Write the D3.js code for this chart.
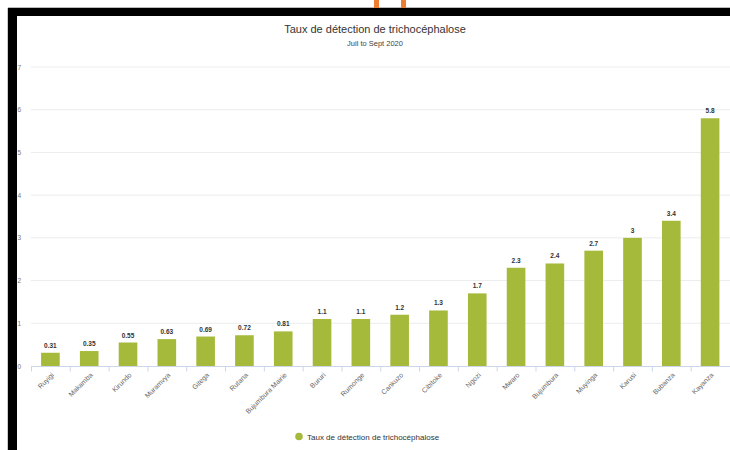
<!DOCTYPE html>
<html><head><meta charset="utf-8">
<script src="https://cdn.jsdelivr.net/npm/d3@7"></script>
<style>body{margin:0;background:#fff;}svg{display:block;font-family:"Liberation Sans",Arial,sans-serif;}</style>
</head><body>
<svg id="c" width="730" height="450"></svg>
<script>
const categories = ["Ruyigi","Makamba","Kirundo","Muramvya","Gitega","Rutana","Bujumbura Mairie","Bururi","Rumonge","Cankuzo","Cibitoke","Ngozi","Mwaro","Bujumbura","Muyinga","Karusi","Bubanza","Kayanza"];
const values = [0.31,0.35,0.55,0.63,0.69,0.72,0.81,1.1,1.1,1.2,1.3,1.7,2.3,2.4,2.7,3,3.4,5.8];
const yTicks = [0,1,2,3,4,5,6,7];
const seriesName = "Taux de détection de trichocéphalose";
const titleText = "Taux de détection de trichocéphalose";
const subtitleText = "Juil to Sept 2020";

const svg = d3.select("#c");
const barColor = "#a5ba3a";

const x = d3.scaleBand().domain(categories).range([31, 729.5]).paddingInner(0.52).paddingOuter(0.26);
const y = d3.scaleLinear().domain([0,7]).range([366, 67]);

// gridlines
svg.append("g").selectAll("line").data(yTicks.filter(d=>d>0)).join("line")
  .attr("x1",31).attr("x2",730).attr("y1",d=>y(d)).attr("y2",d=>y(d))
  .attr("stroke","#ececec").attr("stroke-width",1);

// y labels
svg.append("g").selectAll("text").data(yTicks).join("text")
  .attr("x",21).attr("y",d=>y(d)+2.5).attr("text-anchor","end")
  .attr("font-size",6.5).attr("fill","#777").text(d=>d);

// bars
svg.append("g").selectAll("rect").data(values).join("rect")
  .attr("x",(d,i)=>x(categories[i])).attr("width",x.bandwidth())
  .attr("y",d=>y(d)).attr("height",d=>y(0)-y(d)).attr("fill",barColor);

// data labels
svg.append("g").selectAll("text").data(values).join("text")
  .attr("x",(d,i)=>x(categories[i])+x.bandwidth()/2).attr("y",d=>y(d)-5)
  .attr("text-anchor","middle").attr("font-size",6.5).attr("font-weight","bold")
  .attr("fill","#333").text(d=>d);

// x axis
const xAxis = svg.append("g").attr("transform","translate(0,366.5)");
xAxis.append("line").attr("x1",31).attr("x2",730).attr("stroke","#ccd6eb");
const step = x.step();
xAxis.selectAll("line.t").data(d3.range(categories.length)).join("line").attr("class","t")
  .attr("x1",i=>31+i*step+0.5).attr("x2",i=>31+i*step+0.5).attr("y1",0).attr("y2",5)
  .attr("stroke","#ccd6eb");
xAxis.selectAll("text").data(categories).join("text")
  .attr("transform",d=>`translate(${x(d)+x.bandwidth()/2+4},${9}) rotate(-45)`)
  .attr("text-anchor","end").attr("font-size",7).attr("fill","#666").text(d=>d);

// title
svg.append("text").attr("x",375).attr("y",33).attr("text-anchor","middle")
  .attr("font-size",11).attr("fill","#333").text(titleText);
svg.append("text").attr("x",375).attr("y",46).attr("text-anchor","middle")
  .attr("font-size",7.5).attr("fill","#444").text(subtitleText);

// legend
svg.append("circle").attr("cx",299).attr("cy",436.5).attr("r",3.8).attr("fill",barColor);
svg.append("text").attr("x",307).attr("y",439.5).attr("font-size",8).attr("fill","#333").text(seriesName);

// frame decorations
svg.append("line").attr("x1",8).attr("x2",730).attr("y1",7.5).attr("y2",7.5).attr("stroke","#bbb");
svg.append("rect").attr("x",8).attr("y",8).attr("width",722).attr("height",8).attr("fill","#000");
svg.append("rect").attr("x",8).attr("y",8).attr("width",9).attr("height",442).attr("fill","#000");
svg.append("line").attr("x1",7.5).attr("x2",7.5).attr("y1",8).attr("y2",450).attr("stroke","#ccc");
svg.append("rect").attr("x",374).attr("y",0).attr("width",5).attr("height",8).attr("fill","#ee7d2f");
svg.append("rect").attr("x",401).attr("y",0).attr("width",5).attr("height",8).attr("fill","#ee7d2f");
</script>
</body></html>
